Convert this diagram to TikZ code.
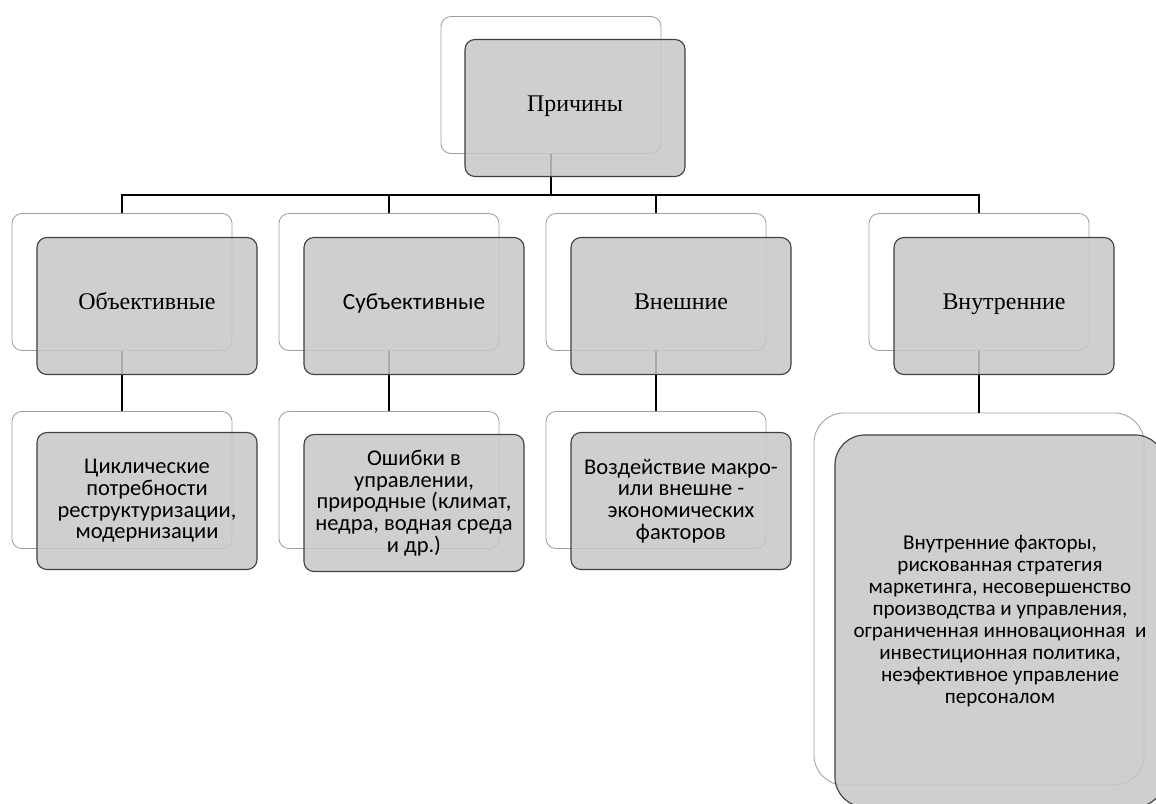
\documentclass[tikz,border=0pt]{standalone}
\usepackage{fontspec}
\setmainfont{Liberation Serif}
\newfontfamily\calfont{Carlito}
\usetikzlibrary{positioning}

\begin{document}
\begin{tikzpicture}[x=0.025cm, y=-0.025cm,
  backbox/.style={draw=gray!75, line width=0.6pt, rounded corners=0.25cm,
                  fill=white, minimum width=5.5cm, minimum height=3.425cm},
  frontbox/.style={draw=black!75, line width=0.8pt, rounded corners=0.25cm,
                   fill=black!22, fill opacity=0.85, text opacity=1,
                   minimum width=5.5cm, minimum height=3.425cm,
                   align=center, inner sep=2pt},
  onelinebox/.style={frontbox, text height=0.7em, text depth=0.22em},
  serifbox/.style={onelinebox, font=\fontsize{17}{19}\selectfont},
  sansbox/.style={onelinebox, font=\calfont\fontsize{16.5}{18}\selectfont},
  notebox/.style={frontbox, font=\calfont\fontsize{16}{15.4}\selectfont},
  link/.style={draw, line width=1.4pt}]
\useasboundingbox (0,0) rectangle (1156,803);

% back boxes
\node[backbox] (rootb) at (551,85) {};
\node[backbox] (objb) at (122,282) {};
\node[backbox] (subb) at (389,282) {};
\node[backbox] (extb) at (656,282) {};
\node[backbox] (intb) at (979,282) {};
\node[backbox] (objlb) at (122,480) {};
\node[backbox] (sublb) at (389,480) {};
\node[backbox] (extlb) at (656,480) {};
\node[backbox, minimum width=8.25cm, minimum height=9.3cm,
      rounded corners=0.75cm] (intlb) at (979,599) {};

% connectors
\coordinate (bus) at (0,195);
\draw[link] (rootb.south) -- (rootb.south |- bus);
\draw[link] (objb.north) -- (objb.north |- bus) -- (intb.north |- bus) -- (intb.north);
\foreach \n in {subb, extb}
  \draw[link] (\n.north |- bus) -- (\n.north);
\foreach \a/\b in {objb/objlb, subb/sublb, extb/extlb, intb/intlb}
  \draw[link] (\a.south) -- (\b.north);

% front boxes
\node[serifbox] (root) at (575,108) {Причины};
\node[serifbox] (obj) at (147,306) {Объективные};
\node[sansbox] (sub) at (414,306) {Субъективные};
\node[serifbox] (ext) at (681,306) {Внешние};
\node[serifbox] (int) at (1004,306) {Внутренние};
\node[notebox] (objl) at (147,501) {Циклические\\потребности\\реструктуризации,\\модернизации};
\node[notebox] (subl) at (414,503) {Ошибки в\\управлении,\\природные (климат,\\недра, водная среда\\и др.)};
\node[notebox] (extl) at (681,501) {Воздействие макро-\\или внешне -\\экономических\\факторов};
\node[frontbox, font=\calfont\fontsize{15}{15.6}\selectfont,
      minimum width=8.25cm, minimum height=9.3cm,
      rounded corners=0.75cm] (intl) at (1000,621)
  {Внутренние факторы,\\рискованная стратегия\\маркетинга, несовершенство\\производства и управления,\\ограниченная инновационная~ и\\инвестиционная политика,\\неэфективное управление\\персоналом};
\end{tikzpicture}
\end{document}
